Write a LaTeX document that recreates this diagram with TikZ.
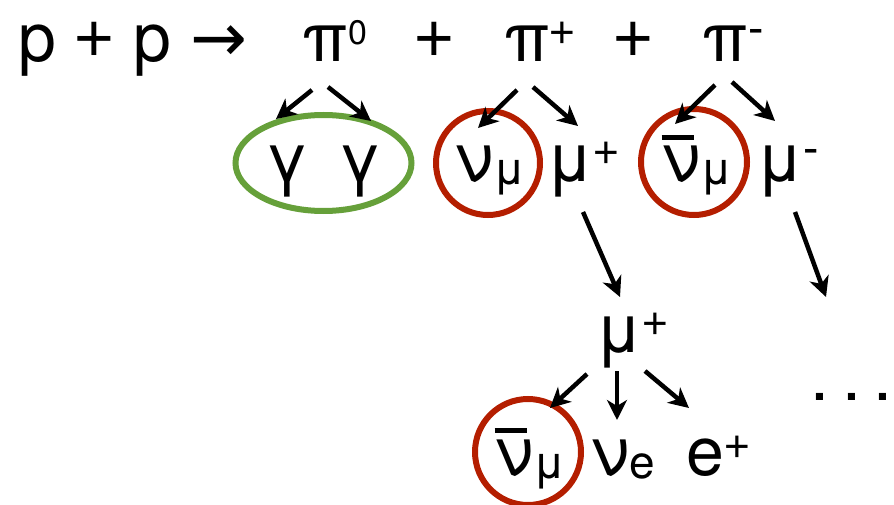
\documentclass[tikz,border=0pt]{standalone}
\usepackage{fontspec}
\setmainfont{TeX Gyre Heros}
\newfontfamily\arrowfont{DejaVu Sans}
\newfontfamily\signfont{Liberation Sans}
\usetikzlibrary{arrows.meta, calc, shapes.geometric}
\definecolor{ringgreen}{RGB}{102,160,58}
\definecolor{ringred}{RGB}{180,30,0}
\newcommand\nubar{\makebox[0pt][l]{\rule[0.62em]{0.48em}{0.07em}}ν}
\newcommand\sups[3][34]{\raisebox{#2}{\fontsize{#1}{40}\selectfont#3}}
\newcommand\splus{\sups[44]{14pt}{\signfont+}}
\newcommand\sminus{\sups[46]{18pt}{\signfont-}}
\newcommand\subs[1]{\raisebox{-3pt}{\fontsize{46}{50}\selectfont#1}}
\tikzset{
  part/.style={anchor=base, inner sep=0pt, font=\fontsize{68}{80}\selectfont},
  decay/.style={-{Stealth[length=20pt, width=20pt, inset=6pt]}, line width=4.5pt},
  ring/.style={draw=ringred, line width=6pt, circle, inner sep=0pt},
}
\begin{document}
\begin{tikzpicture}[x=1pt, y=-1pt]
\useasboundingbox (0,0) rectangle (894,505);
% reaction
\node[part, anchor=base west] (reac) at (18,62) {p {\signfont+} p {\arrowfont →}};
\node[part] (pi0) at (335,62) {π\sups{17pt}{0}};
\node[part] (plus1) at (434,62) {\signfont+};
\node[part] (pipl) at (540,62) {π\splus};
\node[part] (plus2) at (633,62) {\signfont+};
\node[part] (pimi) at (733,62) {π\sminus};
% first decays
\node[part] (g1) at (287,182) {γ};
\node[part] (g2) at (360,182) {γ};
\node[part] (numu) at (490,182) {ν\subs{μ}};
\node[part] (mupl) at (583,182) {μ\splus};
\node[part] (nmbar) at (697,182) {\nubar\subs{μ}};
\node[part] (mumi) at (788,182) {μ\sminus};
% muon decay
\node[part] (mupl2) at (632,352) {μ\splus};
\node[part] (nmbar2) at (530,475) {\nubar\subs{μ}};
\node[part] (nue) at (623,475) {ν\subs{e}};
\node[part] (eplus) at (718,475) {e\splus};
\node[part, anchor=base west] (dots) at (810,400) {.\hspace{13pt}.\hspace{13pt}.};
\coordinate (mumiend) at (826,297);
% rings
\node[draw=ringgreen, line width=6pt, ellipse, minimum width=176, minimum height=96]
  (gring) at ($(g1.base)!0.5!(g2.base)+(0,-19)$) {};
\node[ring, minimum size=104] (numuring) at ($(numu.base)+(-2,-19)$) {};
\node[ring, minimum size=106] (nmbarring) at ($(nmbar.base)+(-3,-20)$) {};
\node[ring, minimum size=106] (nmbarring2) at ($(nmbar2.base)+(-2,-23)$) {};
% arrows
\draw[decay] ($(pi0.base)+(-23,28)$) -- ($(g1.base)+(-11,-63)$);
\draw[decay] ($(pi0.base)+(-7,25)$) -- ($(g2.base)+(11,-61)$);
\draw[decay] ($(pipl.base)+(-23,28)$) -- ($(numu.base)+(-12,-54)$);
\draw[decay] ($(pipl.base)+(-7,25)$) -- ($(mupl.base)+(-5,-56)$);
\draw[decay] ($(pimi.base)+(-18,23)$) -- ($(nmbar.base)+(-22,-58)$);
\draw[decay] ($(pimi.base)+(-1,20)$) -- ($(mumi.base)+(-13,-61)$);
\draw[decay] ($(mupl.base)+(0,30)$) -- ($(mupl2.base)+(-12,-55)$);
\draw[decay] ($(mumi.base)+(7,30)$) -- (mumiend);
\draw[decay] ($(mupl2.base)+(-45,22)$) -- ($(nmbar2.base)+(20,-67)$);
\draw[decay] ($(mupl2.base)+(-15,19)$) -- ($(nue.base)+(-6,-55)$);
\draw[decay] ($(mupl2.base)+(13,19)$) -- ($(eplus.base)+(-29,-67)$);
\end{tikzpicture}
\end{document}
